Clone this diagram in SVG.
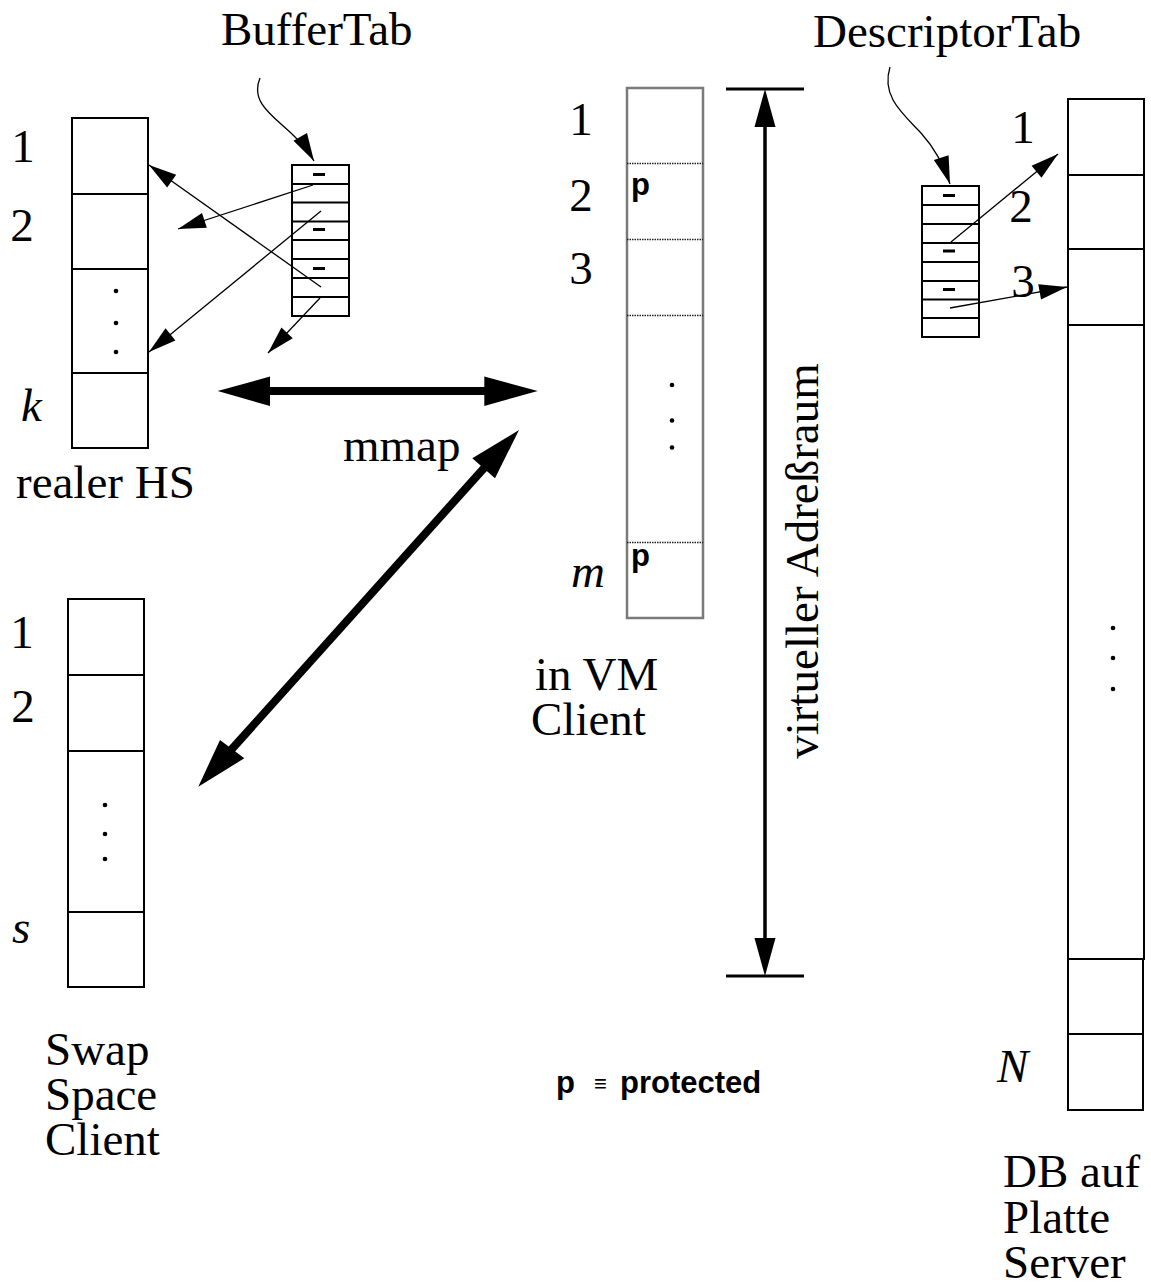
<svg xmlns="http://www.w3.org/2000/svg" width="1151" height="1287" viewBox="0 0 1151 1287">
<style>
.t{font-family:"Liberation Serif","Times New Roman",serif;font-size:47px;fill:#000}
.i{font-style:italic}
.m{text-anchor:middle}
.p{font-family:"Liberation Sans",Arial,sans-serif;font-weight:bold;font-size:31px;fill:#000}
.box{fill:none;stroke:#000;stroke-width:2}
.vm{fill:none;stroke:#7a7a7a;stroke-width:2.5}
.vmd{stroke:#222;stroke-width:1.5;stroke-dasharray:1.5 1}
.dash{stroke:#000;stroke-width:3}
.thin{fill:none;stroke:#000;stroke-width:1.3}
.thick{stroke:#000;stroke-width:8}
</style>
<defs>
<marker id="ah" markerUnits="userSpaceOnUse" markerWidth="30" markerHeight="20" viewBox="-26 -8 27 16" refX="0" refY="0" orient="auto">
<path d="M0,0 L-25,-7 L-25,7 z" fill="#000"/>
</marker>
</defs>

<g id="labels">
<text class="t" x="221" y="45">BufferTab</text>
<text class="t" x="813" y="47">DescriptorTab</text>
<text class="t" x="16" y="498">realer HS</text>
<text class="t" x="343" y="461">mmap</text>
<text class="t" x="535" y="690">in VM</text>
<text class="t" x="531" y="735">Client</text>
<text class="t" x="45" y="1065">Swap</text>
<text class="t" x="45" y="1110">Space</text>
<text class="t" x="45" y="1155">Client</text>
<text class="t" x="1003" y="1187">DB auf</text>
<text class="t" x="1003" y="1233">Platte</text>
<text class="t" x="1003" y="1278">Server</text>
<text class="t" transform="translate(818,561) rotate(-90)" text-anchor="middle">virtueller Adreßraum</text>
<text class="p" x="556" y="1093">p</text>
<text x="594" y="1091" font-family="Liberation Sans, Arial, sans-serif" font-size="22">≡</text>
<text class="p" x="620" y="1093">protected</text>
</g>

<g id="realerHS">
<rect class="box" x="72" y="118" width="76" height="330"/>
<line class="box" x1="72" y1="194" x2="148" y2="194"/>
<line class="box" x1="72" y1="269" x2="148" y2="269"/>
<line class="box" x1="72" y1="373" x2="148" y2="373"/>
<circle cx="116" cy="291" r="2.3"/><circle cx="116" cy="323" r="2.3"/><circle cx="116" cy="352" r="2.3"/>
<text class="t m" x="23" y="162">1</text>
<text class="t m" x="22" y="241">2</text>
<text class="t i" x="21" y="421">k</text>
</g>

<g id="bufferTab">
<rect class="box" x="292" y="165" width="57" height="151"/>
<g class="box">
<line x1="292" y1="184" x2="349" y2="184"/>
<line x1="292" y1="202.5" x2="349" y2="202.5"/>
<line x1="292" y1="221.5" x2="349" y2="221.5"/>
<line x1="292" y1="240" x2="349" y2="240"/>
<line x1="292" y1="259" x2="349" y2="259"/>
<line x1="292" y1="278" x2="349" y2="278"/>
<line x1="292" y1="297" x2="349" y2="297"/>
</g>
<line class="dash" x1="313" y1="174.5" x2="325" y2="174.5"/>
<line class="dash" x1="313" y1="229.5" x2="325" y2="229.5"/>
<line class="dash" x1="313" y1="268.5" x2="325" y2="268.5"/>
</g>

<g id="vm">
<rect class="vm" x="627" y="88" width="76" height="530"/>
<line class="vmd" x1="627" y1="163.5" x2="703" y2="163.5"/>
<line class="vmd" x1="627" y1="239.5" x2="703" y2="239.5"/>
<line class="vmd" x1="627" y1="315.5" x2="703" y2="315.5"/>
<line class="vmd" x1="627" y1="542.5" x2="703" y2="542.5"/>
<circle cx="672" cy="385" r="2.3"/><circle cx="672" cy="420.5" r="2.3"/><circle cx="672" cy="447.5" r="2.3"/>
<text class="p" x="631" y="195">p</text>
<text class="p" x="631" y="566">p</text>
<text class="t m" x="581" y="135">1</text>
<text class="t m" x="581" y="211">2</text>
<text class="t m" x="581" y="284">3</text>
<text class="t i" x="571" y="587">m</text>
</g>

<g id="descriptorTab">
<rect class="box" x="922" y="186" width="57" height="151"/>
<g class="box">
<line x1="922" y1="205" x2="979" y2="205"/>
<line x1="922" y1="224" x2="979" y2="224"/>
<line x1="922" y1="243" x2="979" y2="243"/>
<line x1="922" y1="262" x2="979" y2="262"/>
<line x1="922" y1="281" x2="979" y2="281"/>
<line x1="922" y1="299.5" x2="979" y2="299.5"/>
<line x1="922" y1="318" x2="979" y2="318"/>
</g>
<line class="dash" x1="943" y1="195.5" x2="955" y2="195.5"/>
<line class="dash" x1="943" y1="251" x2="955" y2="251"/>
<line class="dash" x1="943" y1="289.5" x2="955" y2="289.5"/>
</g>

<g id="db">
<rect class="box" x="1068" y="99" width="76" height="860"/>
<line class="box" x1="1068" y1="175" x2="1144" y2="175"/>
<line class="box" x1="1068" y1="249" x2="1144" y2="249"/>
<line class="box" x1="1068" y1="325" x2="1144" y2="325"/>
<rect class="box" x="1068" y="959" width="75" height="151"/>
<line class="box" x1="1068" y1="1034" x2="1143" y2="1034"/>
<circle cx="1113" cy="628" r="2.3"/><circle cx="1113" cy="658" r="2.3"/><circle cx="1113" cy="689" r="2.3"/>
<text class="t m" x="1023" y="143">1</text>
<text class="t m" x="1021" y="222">2</text>
<text class="t m" x="1023" y="297">3</text>
<text class="t i" x="997" y="1082">N</text>
</g>

<g id="swap">
<rect class="box" x="68" y="599" width="76" height="388"/>
<line class="box" x1="68" y1="675" x2="144" y2="675"/>
<line class="box" x1="68" y1="751" x2="144" y2="751"/>
<line class="box" x1="68" y1="912" x2="144" y2="912"/>
<circle cx="105" cy="805" r="2.3"/><circle cx="105" cy="834" r="2.3"/><circle cx="105" cy="859" r="2.3"/>
<text class="t m" x="22" y="648">1</text>
<text class="t m" x="23" y="722">2</text>
<text class="t i" x="12" y="943">s</text>
</g>

<g id="connectors">
<path class="thin" d="M260,78 C250,102 272,115 292,134 Q306,147 314,161" marker-end="url(#ah)"/>
<path class="thin" d="M890,67 C881,96 902,113 921,133 Q940,154 950,184" marker-end="url(#ah)"/>
<line class="thin" x1="313" y1="185" x2="178" y2="229" marker-end="url(#ah)"/>
<line class="thin" x1="321" y1="211" x2="149" y2="352" marker-end="url(#ah)"/>
<line class="thin" x1="321" y1="287" x2="149" y2="165" marker-end="url(#ah)"/>
<line class="thin" x1="320" y1="298" x2="268" y2="353" marker-end="url(#ah)"/>
<line class="thin" x1="951" y1="242" x2="1058" y2="154" marker-end="url(#ah)"/>
<line class="thin" x1="950" y1="308" x2="1067" y2="287" marker-end="url(#ah)"/>
<line class="thick" x1="268" y1="391" x2="487" y2="391"/>
<polygon points="217.7,391 270,376.5 270,406"/>
<polygon points="537.7,391 484.3,376.5 484.3,406"/>
<line class="thick" x1="485" y1="467" x2="231" y2="750"/>
<polygon points="519,430 472.3,458.3 495,478.3"/>
<polygon points="198.3,786.7 220,740 244.3,758.3"/>
<line stroke="#000" stroke-width="3" x1="726" y1="89" x2="804" y2="89"/>
<line stroke="#000" stroke-width="3" x1="726" y1="976" x2="804" y2="976"/>
<line stroke="#000" stroke-width="3.5" x1="765" y1="125" x2="765" y2="940"/>
<polygon points="765,89 754.5,127 775.5,127"/>
<polygon points="765,976 754.5,938 775.5,938"/>
</g>
</svg>
